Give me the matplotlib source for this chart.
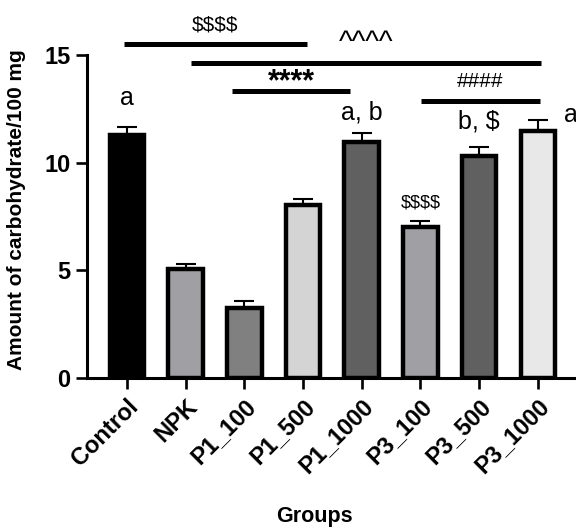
import matplotlib
matplotlib.use("Agg")
import matplotlib.pyplot as plt
import numpy as np

plt.rcParams['font.family'] = ['Liberation Sans', 'DejaVu Sans']
plt.rcParams['text.parse_math'] = False

groups = ["Control", "NPK", "P1_100", "P1_500", "P1_1000", "P3_100", "P3_500", "P3_1000"]
means = [11.3, 5.05, 3.27, 8.04, 10.98, 7.0, 10.33, 11.45]
errs = [0.35, 0.25, 0.3, 0.25, 0.4, 0.3, 0.42, 0.52]
colors = ["#000000", "#a0a0a4", "#808080", "#d4d4d4", "#606060", "#a0a0a4", "#606060", "#e8e8e8"]

# letter annotations: (x, baseline y, text)
letters = [(0, 12.67, "a"), (4, 12.02, "a, b"), (6, 11.6, "b, $"), (7.56, 11.88, "a")]

# significance bars: (x start, x end, y, label, label x, label baseline y, size, weight)
brackets = [
    (-0.05, 3.07, 15.5, "$$$$", 1.5, 16.15, 15, "normal"),
    (1.09, 7.05, 14.62, "^^^^", 4.07, 15.2, 21, "normal"),
    (1.79, 3.80, 13.32, "****", 2.80, 13.35, 22, "bold"),
    (5.01, 7.04, 12.85, "####", 6.01, 13.5, 15, "normal"),
]

fig = plt.figure(figsize=(5.76, 5.31), dpi=100)
ax = fig.add_axes([87/576, (531-378)/531, 1 - 87/576, (378-55)/531])

x = np.arange(len(groups))
ax.bar(x, means, width=0.59, color=colors, edgecolor="black", linewidth=3.2, zorder=2)
ax.errorbar(x, means, yerr=[np.zeros(len(errs)), errs], fmt="none", ecolor="black",
            elinewidth=1.5, capsize=7, capthick=1.5, zorder=1)

ax.set_xlim(-0.68, 7.65)
ax.set_ylim(0, 15)
ax.set_yticks([0, 5, 10, 15])
ax.spines['top'].set_visible(False)
ax.spines['right'].set_visible(False)
ax.spines['left'].set_linewidth(2.2)
ax.spines['bottom'].set_linewidth(2.2)
ax.tick_params(axis='both', width=1.9, length=8, labelsize=17, pad=4)
for lab in ax.get_yticklabels():
    lab.set_fontweight('bold')
ax.set_xticks(x)
ax.set_xticklabels(groups, rotation=45, ha='right', rotation_mode='anchor', fontweight='bold', fontsize=17)
ax.set_ylabel("Amount of carbohydrate/100 mg", fontweight='bold', fontsize=15)
ax.yaxis.set_label_coords(-0.125, 0.52)
ax.set_xlabel("Groups", fontweight='bold', fontsize=15.5)
ax.xaxis.set_label_coords(0.466, -0.395)

for lx, ly, t in letters:
    ax.text(lx, ly, t, ha='center', va='baseline', fontsize=18, clip_on=False)

ax.text(5, 7.9, "$$$$", ha='center', va='baseline', fontsize=13, clip_on=False)

for s, e, yl, lab, lx, ly, fs, fw in brackets:
    ax.plot([s, e], [yl, yl], color='black', lw=3.6, clip_on=False, solid_capstyle='butt')
    ax.text(lx, ly, lab, ha='center', va='baseline', fontsize=fs, fontweight=fw, clip_on=False)

fig.savefig("out.png", dpi=100)
